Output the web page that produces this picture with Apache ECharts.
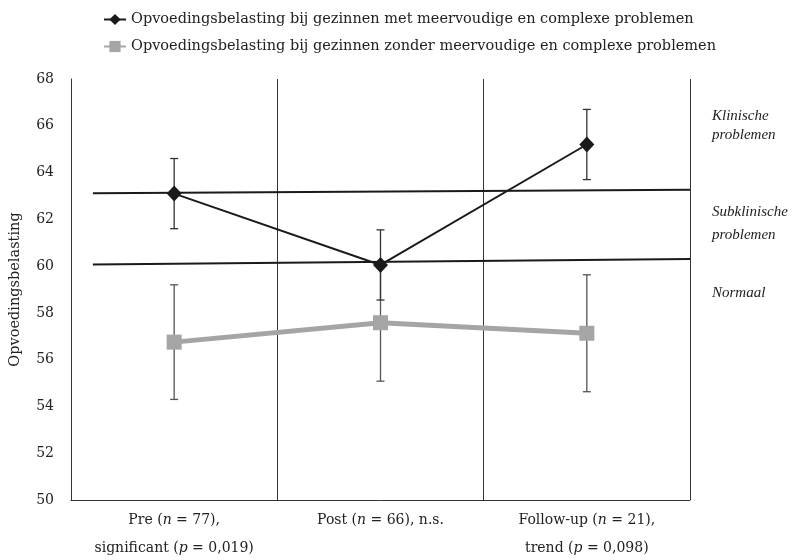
<!DOCTYPE html>
<html>
<head>
<meta charset="utf-8">
<script src="https://cdn.jsdelivr.net/npm/echarts@6/dist/echarts.min.js"></script>
<style>html,body{margin:0;padding:0;background:#fff;}#c{width:806px;height:560px;}</style>
</head>
<body>
<div id="c"></div>
<script>
const categories = ['Pre', 'Post', 'Follow-up'];
const categoryLabels = [
  '{r|Pre (}{i|n}{r| = 77),}\n{r|significant (}{i|p}{r| = 0,019)}',
  '{r|Post (}{i|n}{r| = 66), n.s.}',
  '{r|Follow-up (}{i|n}{r| = 21),}\n{r|trend (}{i|p}{r| = 0,098)}'
];
const seriesNames = [
  'Opvoedingsbelasting bij gezinnen met meervoudige en complexe problemen',
  'Opvoedingsbelasting bij gezinnen zonder meervoudige en complexe problemen'
];
const withProblems = [63.1, 60.05, 65.2];
const withProblemsErr = [1.5, 1.5, 1.5];
const withoutProblems = [56.75, 57.58, 57.13];
const withoutProblemsErr = [2.45, 2.5, 2.5];
const yMin = 50, yMax = 68, yStep = 2;
const refClinical = [[0.106, 63.11], [3, 63.26]];
const refSubclinical = [[0.106, 60.07], [3, 60.3]];
const zoneLabels = [
  {text: 'Klinische\nproblemen', y: 107, lh: 19},
  {text: 'Subklinische\nproblemen', y: 201, lh: 23},
  {text: 'Normaal', y: 284, lh: 19}
];

const FONT = '"DejaVu Serif", "Liberation Serif", serif';
const IFONT = '"Liberation Serif", serif';

function errData(vals, errs) {
  return vals.map((v, i) => [i, v - errs[i], v + errs[i]]);
}
function errRender(color) {
  return function (params, api) {
    const x = api.value(0);
    const lo = api.coord([x, api.value(1)]);
    const hi = api.coord([x, api.value(2)]);
    const w = 4;
    const st = {stroke: color, lineWidth: 1.3};
    return {
      type: 'group',
      children: [
        {type: 'line', shape: {x1: lo[0], y1: lo[1], x2: hi[0], y2: hi[1]}, style: st},
        {type: 'line', shape: {x1: lo[0] - w, y1: lo[1], x2: lo[0] + w, y2: lo[1]}, style: st},
        {type: 'line', shape: {x1: hi[0] - w, y1: hi[1], x2: hi[0] + w, y2: hi[1]}, style: st}
      ]
    };
  };
}

const chart = echarts.init(document.getElementById('c'), null, {renderer: 'canvas'});
chart.setOption({
  backgroundColor: '#fff',
  animation: false,
  textStyle: {fontFamily: FONT},
  legend: {
    orient: 'vertical',
    left: 98,
    top: 7,
    itemWidth: 22,
    itemHeight: 14,
    itemGap: 12,
    data: seriesNames,
    textStyle: {fontFamily: FONT, fontSize: 14.5, color: '#222'}
  },
  grid: {left: 70, right: 116, top: 79, bottom: 60},
  xAxis: [
    {
      type: 'category',
      data: categories,
      boundaryGap: true,
      axisLine: {lineStyle: {color: '#333', width: 1}},
      axisTick: {show: false},
      splitLine: {show: true, lineStyle: {color: '#333', width: 1}},
      axisLabel: {
        margin: 6,
        interval: 0,
        formatter: (v, i) => categoryLabels[i],
        rich: {
          r: {fontFamily: FONT, fontSize: 14, color: '#222', lineHeight: 28},
          i: {fontFamily: FONT, fontSize: 14, color: '#222', fontStyle: 'italic', lineHeight: 28}
        }
      }
    },
    {type: 'value', min: 0, max: 3, show: false}
  ],
  yAxis: {
    type: 'value',
    min: yMin, max: yMax, interval: yStep,
    name: 'Opvoedingsbelasting',
    nameLocation: 'middle',
    nameGap: 48,
    nameTextStyle: {fontFamily: FONT, fontSize: 14.5, color: '#222'},
    axisLine: {show: true, lineStyle: {color: '#333', width: 1}},
    axisTick: {show: false},
    splitLine: {show: false},
    axisLabel: {margin: 17, fontFamily: FONT, fontSize: 14, color: '#222'}
  },
  graphic: zoneLabels.map(z => ({
    type: 'text', left: 712, top: z.y,
    style: {text: z.text, fontFamily: IFONT, fontSize: 15, fontStyle: 'italic', fill: '#222', lineHeight: z.lh}
  })),
  series: [
    {
      type: 'line', xAxisIndex: 1, data: refClinical, symbol: 'none', silent: true,
      lineStyle: {color: '#1a1a1a', width: 2}, z: 1
    },
    {
      type: 'line', xAxisIndex: 1, data: refSubclinical, symbol: 'none', silent: true,
      lineStyle: {color: '#1a1a1a', width: 2}, z: 1
    },
    {
      type: 'custom', xAxisIndex: 0, data: errData(withoutProblems, withoutProblemsErr),
      renderItem: errRender('#555'), z: 2, silent: true
    },
    {
      type: 'custom', xAxisIndex: 0, data: errData(withProblems, withProblemsErr),
      renderItem: errRender('#333'), z: 2, silent: true
    },
    {
      name: seriesNames[1], type: 'line', xAxisIndex: 0, data: withoutProblems,
      symbol: 'rect', symbolSize: 15,
      itemStyle: {color: '#a5a5a5'},
      lineStyle: {color: '#a5a5a5', width: 5}, z: 3
    },
    {
      name: seriesNames[0], type: 'line', xAxisIndex: 0, data: withProblems,
      symbol: 'diamond', symbolSize: [15, 16],
      itemStyle: {color: '#1a1a1a'},
      lineStyle: {color: '#1a1a1a', width: 2}, z: 4
    }
  ]
});
</script>
</body>
</html>
